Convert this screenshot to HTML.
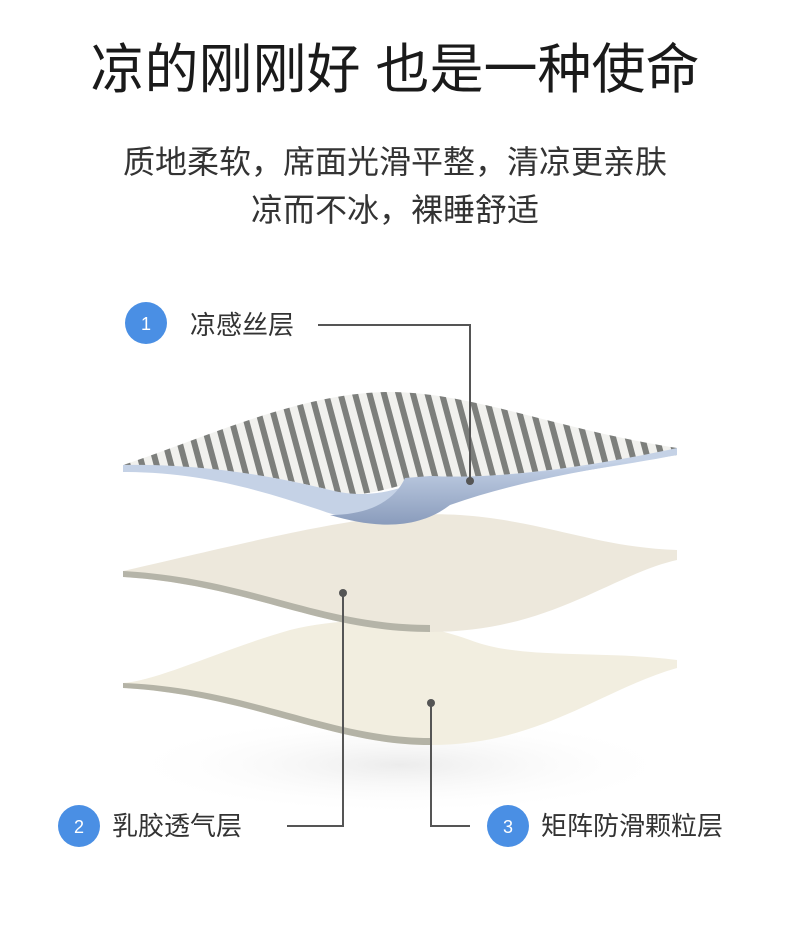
<!DOCTYPE html>
<html><head><meta charset="utf-8"><style>
body{margin:0;background:#fff;}
.w{position:relative;width:790px;height:937px;overflow:hidden;font-family:"Liberation Sans","Noto Sans CJK SC",sans-serif;}
.t{position:absolute;left:0;width:790px;text-align:center;color:#222;line-height:1;white-space:nowrap;}
.l{position:absolute;font-size:26px;color:#333;line-height:1;white-space:nowrap;}
</style></head><body><div class="w">
<div class="t" style="top:43px;font-size:54px;color:#1a1a1a;">凉的刚刚好 也是一种使命</div>
<div class="t" style="top:146px;font-size:32px;color:#333;">质地柔软，席面光滑平整，清凉更亲肤</div>
<div class="t" style="top:194px;font-size:32px;color:#333;">凉而不冰，裸睡舒适</div>
<svg width="790" height="937" style="position:absolute;left:0;top:0">
<defs>
<radialGradient id="sh" cx="50%" cy="50%" r="50%"><stop offset="0" stop-color="#ececec"/><stop offset="1" stop-color="#fff" stop-opacity="0"/></radialGradient>
<linearGradient id="bl" x1="0" y1="0" x2="0" y2="1"><stop offset="0" stop-color="#c9d6ea"/><stop offset="1" stop-color="#8a9cbc"/></linearGradient>
<pattern id="st" width="14" height="10" patternUnits="userSpaceOnUse" patternTransform="rotate(-15)"><rect width="14" height="10" fill="#f1f1ee"/><rect width="6" height="10" fill="#7d7f7c"/></pattern>
</defs>
<ellipse cx="400" cy="765" rx="280" ry="50" fill="url(#sh)"/>
<path d="M123,688 C250,695 330,745 430,745 C540,745 600,690 677,668 L677,660 C600,650 520,660 470,640 C400,615 340,618 290,630 C220,650 160,680 123,683 Z" fill="#f2eee0"/>
<path d="M123,683 L123,688 C250,695 330,745 430,745 L430,738 C330,738 250,688 123,683 Z" fill="#b4b3a6"/>
<path d="M123,577 C250,585 320,632 430,632 C550,632 610,575 677,560 L677,550 C600,548 540,520 460,515 C380,510 300,530 123,571 Z" fill="#ede8dc"/>
<path d="M123,571 L123,577 C250,585 320,632 430,632 L430,625 C320,625 250,578 123,571 Z" fill="#b5b4a8"/>
<path d="M123,465 C200,440 300,392 390,392 C470,392 560,430 677,448 L677,455 C580,470 500,480 430,478 C380,490 360,500 330,490 C250,470 180,465 123,470 Z" fill="url(#st)"/>
<path d="M123,465 L123,472 C200,472 260,490 320,510 C360,525 410,525 440,505 C500,480 600,470 677,455 L677,448 C600,465 500,480 430,476 C400,490 370,500 330,490 C250,470 180,464 123,465 Z" fill="#c5d2e6"/>
<path d="M405,478 C395,500 370,515 330,515 C380,530 420,528 450,505 C520,480 600,468 677,455 C600,465 500,480 430,476 Z" fill="url(#bl)"/>
<g stroke="#555" stroke-width="2" fill="none">
<path d="M318,325 H470 V480"/>
<path d="M287,826 H343 V592"/>
<path d="M470,826 H431 V703"/>
</g>
<g fill="#555"><circle cx="470" cy="481" r="4"/><circle cx="343" cy="593" r="4"/><circle cx="431" cy="703" r="4"/></g>
<g fill="#4a8fe4"><circle cx="146" cy="323" r="21"/><circle cx="79" cy="826" r="21"/><circle cx="508" cy="826" r="21"/></g>
<g fill="#fff" font-size="18" text-anchor="middle" font-family="Liberation Sans,sans-serif"><text x="146" y="330">1</text><text x="79" y="833">2</text><text x="508" y="833">3</text></g>
</svg>
<div class="l" style="left:190px;top:312px;">凉感丝层</div>
<div class="l" style="left:112px;top:813px;">乳胶透气层</div>
<div class="l" style="left:541px;top:813px;">矩阵防滑颗粒层</div>
</div></body></html>
